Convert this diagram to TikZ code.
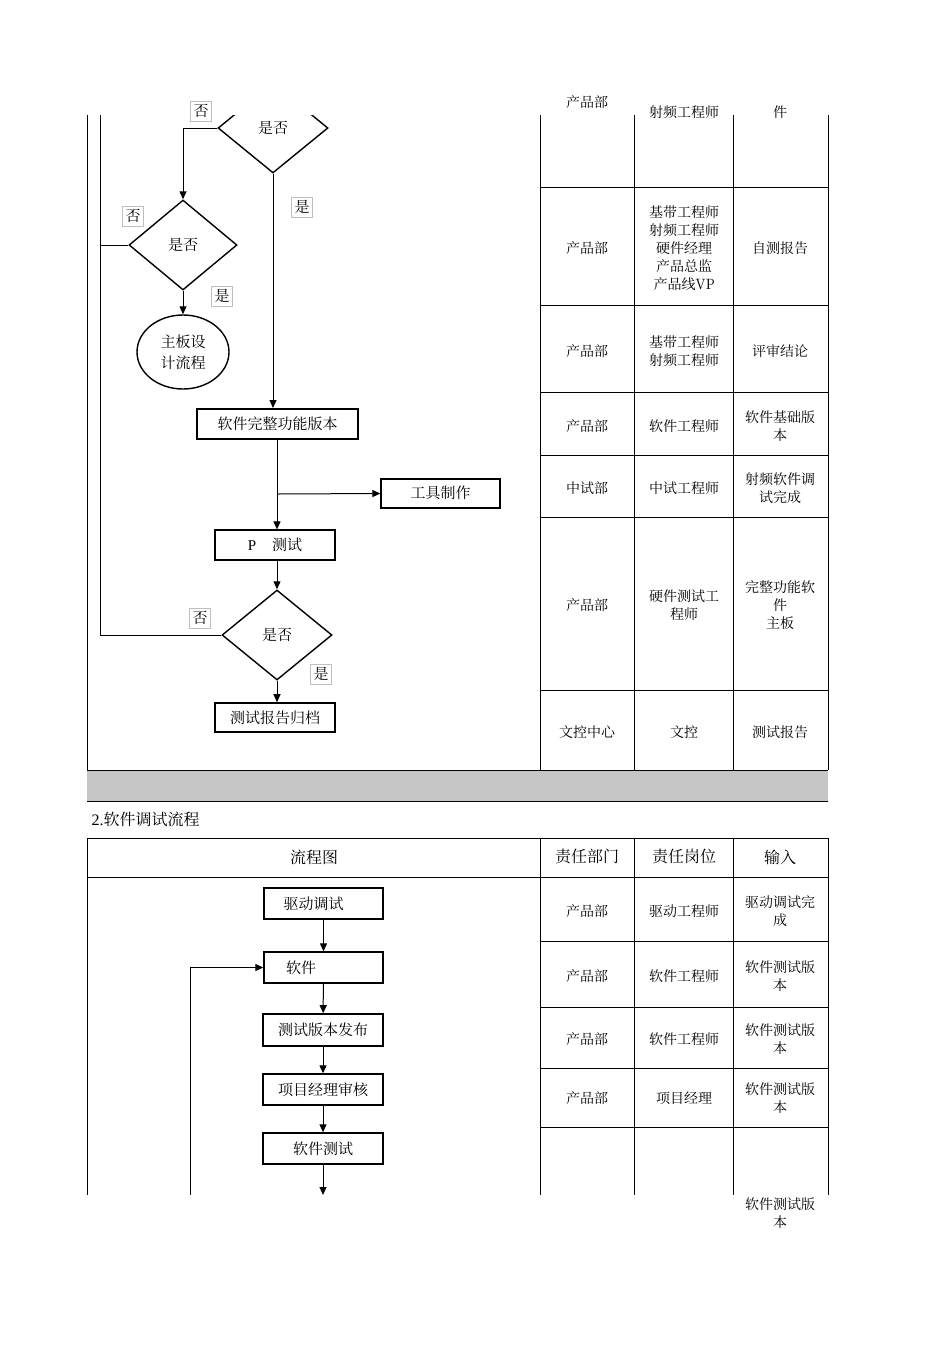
\documentclass[tikz,border=0pt]{standalone}
\usepackage{fontspec}
\newfontfamily\cjk{Noto Serif CJK SC}
\setmainfont{Liberation Serif}
\usetikzlibrary{shapes.geometric,arrows.meta}
\begin{document}
\begin{tikzpicture}[x=1pt,y=-1pt,
  every node/.style={font=\fontsize{14}{17}\selectfont},
  fbox/.style={draw,line width=1.6pt,minimum height=30pt,inner sep=0pt,font=\fontsize{15}{17}\selectfont},
  dia/.style={draw,line width=1.4pt,diamond,minimum width=110pt,minimum height=90pt,inner sep=0pt,font=\fontsize{15}{17}\selectfont},
  lab/.style={draw=gray!50,line width=0.5pt,inner sep=3pt,font=\fontsize{15}{17}\selectfont},
  cell/.style={align=center,font=\fontsize{14}{18}\selectfont},
  arr/.style={line width=1pt,-{Triangle[length=8pt,width=7pt]}},
  ln/.style={line width=1pt}]
\useasboundingbox (0,0) rectangle (950,1345);
% table lines
\draw[line width=0.8pt] (87,115)--(87,770) (87,838)--(87,1195);
\foreach \x in {540,634,733}{\draw[line width=0.8pt] (\x,115)--(\x,770) (\x,838)--(\x,1195);}
\draw[line width=0.8pt] (828,115)--(828,770) (828,838)--(828,1195);
\foreach \y in {187,305,392,455,517,690,941,1007,1068,1127}{\draw[line width=1pt] (540,\y)--(828,\y);}
\fill[gray!45] (87,770) rectangle (828,801);
\draw[line width=0.8pt] (87,770)--(828,770) (87,801)--(828,801);
\draw[line width=1pt] (87,838)--(828,838) (87,877)--(828,877);
\node[anchor=west,font=\fontsize{16}{18}\selectfont] (t2) at (88,819) {2.{\cjk 软件调试流程}};
\node[font=\cjk\fontsize{16}{18}\selectfont] (h1) at (314,857) {流程图};
\node[font=\cjk\fontsize{16}{18}\selectfont] (h2) at (587,857) {责任部门};
\node[font=\cjk\fontsize{16}{18}\selectfont] (h3) at (684,857) {责任岗位};
\node[font=\cjk\fontsize{16}{18}\selectfont] (h4) at (780,857) {输入};
% table texts
\begin{scope}[every node/.append style={cell}]
\cjk
\node (a1) at (587,102) {产品部}; \node (b1) at (684,112) {射频工程师}; \node (c1) at (780,112) {件};
\node (a2) at (587,248) {产品部}; \node (b2) at (684,248) {基带工程师\\射频工程师\\硬件经理\\产品总监\\产品线VP}; \node (c2) at (780,248) {自测报告};
\node (a3) at (587,351) {产品部}; \node (b3) at (684,351) {基带工程师\\射频工程师}; \node (c3) at (780,351) {评审结论};
\node (a4) at (587,426) {产品部}; \node (b4) at (684,426) {软件工程师}; \node (c4) at (780,426) {软件基础版\\本};
\node (a5) at (587,488) {中试部}; \node (b5) at (684,488) {中试工程师}; \node (c5) at (780,488) {射频软件调\\试完成};
\node (a6) at (587,605) {产品部}; \node (b6) at (684,605) {硬件测试工\\程师}; \node (c6) at (780,605) {完整功能软\\件\\主板};
\node (a7) at (587,732) {文控中心}; \node (b7) at (684,732) {文控}; \node (c7) at (780,732) {测试报告};
\node (d1) at (587,911) {产品部}; \node (e1) at (684,911) {驱动工程师}; \node (f1) at (780,911) {驱动调试完\\成};
\node (d2) at (587,976) {产品部}; \node (e2) at (684,976) {软件工程师}; \node (f2) at (780,976) {软件测试版\\本};
\node (d3) at (587,1039) {产品部}; \node (e3) at (684,1039) {软件工程师}; \node (f3) at (780,1039) {软件测试版\\本};
\node (d4) at (587,1098) {产品部}; \node (e4) at (684,1098) {项目经理}; \node (f4) at (780,1098) {软件测试版\\本};
\node (f5) at (780,1213) {软件测试版\\本};
\end{scope}
% top flowchart
\begin{scope}
\clip (0,115) rectangle (950,1195);
\node[dia] (q1) at (273,128) {\cjk 是否};
\end{scope}
\node[dia,minimum width=108pt] (q2) at (183,245) {\cjk 是否};
\node[draw,ellipse,line width=1.4pt,minimum width=92pt,minimum height=74pt,align=center,inner sep=0pt,font=\cjk\fontsize{15}{21}\selectfont] (mb) at (183,352) {主板设\\计流程};
\node[fbox,minimum width=161pt] (sw) at (277.5,424) {\cjk 软件完整功能版本};
\node[draw,line width=1.2pt,minimum width=119pt,minimum height=29pt,inner sep=0pt,font=\fontsize{15}{17}\selectfont] (tool) at (440.5,493.5) {\cjk 工具制作};
\node[draw,line width=1.2pt,minimum width=120pt,minimum height=30pt,inner sep=0pt,font=\fontsize{15}{17}\selectfont] (pt) at (275,545) {P\hspace{16pt}{\cjk 测试}};
\node[dia] (q3) at (277,635) {\cjk 是否};
\node[fbox,minimum width=120pt,minimum height=29pt] (rep) at (275,717.5) {\cjk 测试报告归档};
\coordinate (L0) at (100,115);
\draw[ln] (L0) -- (100,635) -- (q3.west);
\draw[ln] (100,245) -- (q2.west);
\draw[arr] (q1.west) -- (183,128) -- (q2.north);
\draw[arr] (q2.south) -- (mb.north);
\draw[arr] (q1.south) -- (273,408);
\draw[arr] (277,440) -- (pt.north -| 277,0);
\draw[arr] (277,494) -- (tool.west);
\draw[arr] (277,560) -- (q3.north);
\draw[arr] (q3.south) -- (rep.north -| q3.south);
\node[lab] (n1) at (201,111) {\cjk 否};
\node[lab] (y1) at (302,207) {\cjk 是};
\node[lab] (n2) at (133,216) {\cjk 否};
\node[lab] (y2) at (222,296) {\cjk 是};
\node[lab] (n3) at (200,618) {\cjk 否};
\node[lab] (y3) at (321,674) {\cjk 是};
% bottom flowchart
\node[draw,line width=1.4pt,minimum width=119pt,minimum height=31pt,inner sep=0pt,font=\fontsize{15}{17}\selectfont] (s1) at (323.5,903.5) {\hspace{-20pt}\cjk 驱动调试};
\node[draw,line width=1.4pt,minimum width=119pt,minimum height=31pt,inner sep=0pt,font=\fontsize{15}{17}\selectfont] (s2) at (323.5,967.5) {\hspace{-45pt}\cjk 软件};
\node[fbox,minimum width=120pt,minimum height=32pt] (s3) at (323,1030) {\cjk 测试版本发布};
\node[draw,line width=1.4pt,minimum width=120pt,minimum height=31pt,inner sep=0pt,font=\fontsize{15}{17}\selectfont] (s4) at (323,1089.5) {\cjk 项目经理审核};
\node[draw,line width=1.4pt,minimum width=120pt,minimum height=31pt,inner sep=0pt,font=\fontsize{15}{17}\selectfont] (s5) at (323,1148.5) {\cjk 软件测试};
\coordinate (e5) at (323,1195);
\coordinate (lp) at (190,1195);
\draw[arr] (s1) -- (s2);
\draw[arr] (s2) -- (s3);
\draw[arr] (s3) -- (s4);
\draw[arr] (s4) -- (s5);
\draw[arr] (s5) -- (e5);
\draw[arr] (lp) -- (190,967.5) -- (s2.west);
\end{tikzpicture}
\end{document}
